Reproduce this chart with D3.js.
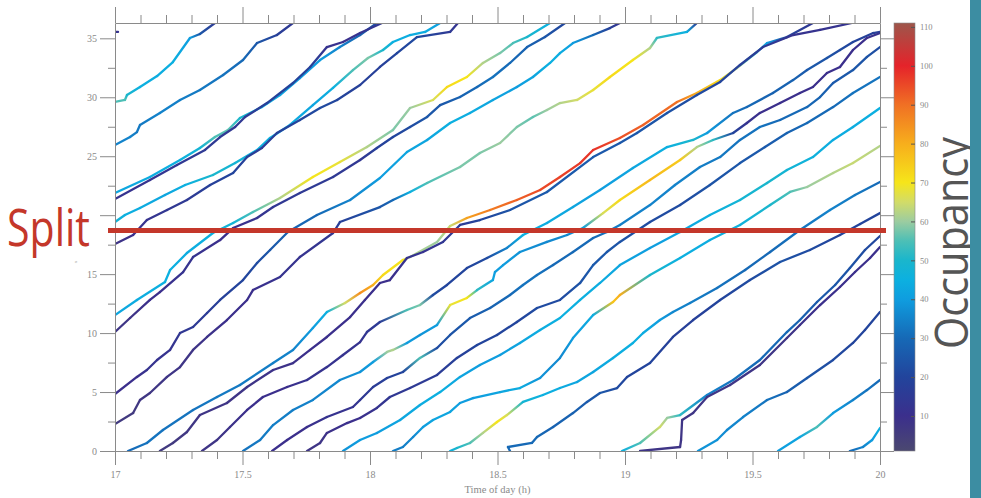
<!DOCTYPE html>
<html lang="en">
<head>
<meta charset="UTF-8">
<title>Occupancy trajectories</title>
<script src="https://d3js.org/d3.v7.min.js"></script>
<style>
  html, body { margin: 0; padding: 0; background: #fff; }
  svg { display: block; }
</style>
</head>
<body>
<svg id="chart" width="981" height="498"></svg>
<script>
// each run: [time of day (h), position (km), occupancy]
const runA1 = [[17.000,35.54,12],[17.012,35.54,12]];
const runA2 = [[17.000,29.60,55],[17.039,29.77,55],[17.047,30.19,50],[17.098,30.87,45],[17.165,31.80,44],[17.227,32.99,45],[17.294,35.03,40],[17.333,35.37,25],[17.392,36.30,15]];
const runA3 = [[17.000,25.95,35],[17.059,26.63,35],[17.086,27.05,33],[17.098,27.65,33],[17.176,28.67,35],[17.255,29.77,34],[17.333,30.62,33],[17.424,31.89,32],[17.502,33.16,30],[17.557,34.60,25],[17.635,35.28,18],[17.698,36.30,14]];
const runA4 = [[17.000,21.88,42],[17.137,23.24,44],[17.255,24.68,45],[17.333,25.70,48],[17.392,26.63,55],[17.443,27.22,56],[17.490,28.24,50],[17.576,29.17,45],[17.647,30.19,42],[17.725,31.63,40],[17.804,33.16,40],[17.882,34.26,35],[17.961,35.28,28],[18.027,36.30,22]];
const runA5 = [[17.000,21.37,12],[17.137,22.98,12],[17.243,24.26,14],[17.353,25.53,15],[17.412,26.63,15],[17.471,27.48,14],[17.510,28.33,15],[17.596,29.51,18],[17.698,31.21,20],[17.765,32.57,18],[17.831,34.26,12],[17.894,34.69,10],[17.961,35.45,12],[18.047,36.30,14]];
const runC0 = [[17.000,19.42,48],[17.039,20.02,45],[17.098,20.61,44],[17.196,21.71,42],[17.275,22.56,45],[17.384,23.41,50],[17.471,24.42,48],[17.557,25.53,45],[17.608,26.55,45],[17.686,27.65,44],[17.776,29.34,42],[17.855,30.79,45],[17.933,32.31,55],[17.992,33.33,58],[18.051,34.01,50],[18.090,34.69,45],[18.157,35.28,44],[18.216,35.54,44],[18.275,36.30,40]];
const runC1 = [[17.000,17.56,8],[17.071,18.32,10],[17.125,19.59,12],[17.204,20.44,14],[17.282,21.29,15],[17.373,22.56,18],[17.463,23.58,20],[17.518,24.93,18],[17.576,25.70,16],[17.635,26.97,18],[17.725,28.07,20],[17.804,29.09,22],[17.871,29.77,20],[17.961,31.04,18],[18.039,32.57,18],[18.106,33.75,20],[18.184,35.11,22],[18.314,35.54,15],[18.345,36.30,12]];
const runL1 = [[17.000,11.53,42],[17.086,12.81,44],[17.196,14.33,45],[17.216,15.35,45],[17.282,16.79,44],[17.384,18.49,45],[17.463,19.34,48],[17.541,20.27,55],[17.647,21.46,62],[17.776,23.24,70],[17.882,24.51,68],[17.988,25.78,62],[18.090,27.22,58],[18.157,29.09,60],[18.247,29.77,66],[18.302,30.87,72],[18.380,31.72,70],[18.443,32.91,62],[18.510,33.75,58],[18.561,34.60,55],[18.616,35.11,50],[18.706,36.30,45]];
const runL2 = [[17.000,10.09,8],[17.059,11.28,8],[17.137,12.81,10],[17.176,13.48,10],[17.267,15.18,12],[17.306,16.45,12],[17.412,17.89,10],[17.463,18.91,10],[17.557,19.76,12],[17.620,20.69,14],[17.725,21.88,15],[17.855,23.24,15],[17.961,24.68,14],[18.027,25.70,18],[18.090,26.63,20],[18.157,27.48,22],[18.224,28.33,25],[18.275,29.34,25],[18.353,30.02,28],[18.420,30.87,30],[18.482,31.72,32],[18.549,32.91,30],[18.616,34.26,28],[18.686,35.11,25],[18.765,36.30,20]];
const runL3 = [[17.000,4.83,10],[17.086,6.28,10],[17.125,6.87,12],[17.165,7.72,12],[17.216,8.57,12],[17.255,10.01,14],[17.306,10.52,15],[17.361,11.70,16],[17.412,12.81,18],[17.502,14.50,20],[17.557,15.94,22],[17.608,17.05,25],[17.678,18.57,28],[17.792,20.02,30],[17.922,21.29,35],[18.039,23.15,40],[18.145,25.36,42],[18.224,26.38,42],[18.314,27.82,45],[18.392,28.67,44],[18.482,29.77,42],[18.576,30.87,40],[18.639,31.72,42],[18.706,32.91,45],[18.745,33.75,44],[18.796,34.60,40],[18.875,35.28,30],[18.941,35.87,18],[18.980,36.30,12]];
const runL4 = [[17.000,2.29,6],[17.071,3.22,6],[17.098,4.33,7],[17.137,4.92,7],[17.204,6.28,8],[17.255,7.12,8],[17.306,8.57,8],[17.361,9.67,9],[17.439,11.11,10],[17.518,12.81,10],[17.541,13.65,10],[17.647,14.76,12],[17.725,16.45,12],[17.855,18.49,14],[17.882,19.42,18],[18.039,20.69,25],[18.090,21.29,30],[18.157,21.97,45],[18.224,22.73,55],[18.353,24.09,58],[18.431,25.27,58],[18.510,26.12,60],[18.576,27.48,58],[18.639,28.33,56],[18.694,28.92,60],[18.745,29.51,62],[18.812,29.77,65],[18.875,30.62,68],[18.941,31.72,72],[19.031,33.16,70],[19.098,34.18,62],[19.125,35.03,52],[19.243,35.54,45],[19.282,36.30,15]];
const runB01 = [[17.051,0.00,30],[17.125,0.68,32],[17.188,1.78,32],[17.306,3.48,32],[17.400,4.58,33],[17.490,5.60,33],[17.620,7.46,34],[17.698,8.57,35],[17.776,10.43,40],[17.831,11.79,45],[17.902,12.55,65],[17.961,13.40,85],[18.012,14.08,80],[18.051,14.93,72],[18.129,16.20,70],[18.157,16.45,62],[18.263,17.73,60],[18.314,19.08,64],[18.380,19.76,82],[18.471,20.44,88],[18.576,21.29,92],[18.667,22.14,95],[18.745,23.24,96],[18.824,24.42,97],[18.875,25.53,98],[18.980,26.55,94],[19.071,27.65,92],[19.204,29.60,90],[19.282,30.36,80],[19.373,31.46,72],[19.439,32.48,62],[19.478,33.16,55],[19.518,33.84,50],[19.557,34.60,40],[19.635,35.11,20],[19.737,36.30,14]];
const runB02 = [[17.176,0.00,6],[17.227,0.68,6],[17.282,1.61,7],[17.333,3.05,8],[17.439,4.07,8],[17.518,5.43,8],[17.620,6.87,9],[17.698,7.46,9],[17.765,8.57,10],[17.831,9.67,10],[17.922,11.36,10],[17.980,12.81,10],[18.039,14.25,10],[18.078,14.50,10],[18.145,16.37,12],[18.208,16.88,12],[18.286,17.73,14],[18.353,19.17,16],[18.431,19.59,20],[18.549,20.44,24],[18.694,21.97,26],[18.875,24.93,26],[18.980,26.12,25],[19.047,26.97,25],[19.165,28.67,24],[19.282,30.19,22],[19.373,31.30,20],[19.451,32.74,18],[19.541,34.26,15],[19.659,35.28,12],[19.765,35.71,12],[19.890,36.30,12]];
const runB03 = [[17.341,0.00,8],[17.400,0.93,8],[17.451,2.04,9],[17.518,3.48,10],[17.580,4.58,10],[17.675,5.43,10],[17.753,6.02,12],[17.831,7.12,12],[17.894,8.14,12],[17.961,9.24,12],[17.988,10.09,14],[18.039,10.94,16],[18.145,11.96,55],[18.196,12.38,58],[18.247,13.23,22],[18.302,14.08,20],[18.380,15.52,20],[18.459,16.37,22],[18.537,17.22,35],[18.600,18.32,45],[18.694,19.34,44],[18.796,20.69,42],[18.902,22.14,40],[19.031,24.00,42],[19.165,25.78,45],[19.267,26.38,50],[19.322,26.97,40],[19.424,28.67,32],[19.478,29.17,30],[19.580,30.36,28],[19.659,31.46,28],[19.714,32.31,26],[19.792,33.33,24],[19.843,34.01,22],[19.894,34.69,20],[19.973,35.45,18],[20.000,35.54,18]];
const runB04 = [[17.502,0.00,32],[17.569,0.93,33],[17.620,2.20,34],[17.698,3.48,34],[17.776,4.33,35],[17.882,6.02,36],[17.961,6.70,38],[18.012,7.55,40],[18.067,8.40,60],[18.090,8.57,62],[18.145,9.16,40],[18.196,9.84,38],[18.263,10.69,40],[18.314,12.38,68],[18.380,12.98,70],[18.420,13.65,52],[18.482,14.50,42],[18.490,15.18,40],[18.522,15.77,40],[18.588,16.88,38],[18.694,17.73,36],[18.773,18.32,36],[18.835,18.91,40],[18.914,20.18,66],[18.980,21.29,72],[19.098,22.98,78],[19.216,24.68,75],[19.282,25.78,62],[19.345,26.38,52],[19.424,26.97,20],[19.478,27.82,12],[19.529,28.67,10],[19.608,29.51,10],[19.686,30.36,10],[19.737,30.87,10],[19.792,32.06,10],[19.843,32.57,10],[19.894,34.01,10],[19.949,35.03,10],[20.000,35.45,12]];
const runB05 = [[17.616,0.00,10],[17.675,0.93,10],[17.753,2.04,10],[17.831,2.88,12],[17.933,3.73,12],[17.961,4.33,14],[18.012,5.43,16],[18.067,6.19,18],[18.129,6.70,20],[18.196,7.89,55],[18.263,8.74,22],[18.314,9.84,24],[18.392,11.28,26],[18.471,12.13,28],[18.549,13.23,30],[18.600,14.08,32],[18.655,14.93,32],[18.718,15.77,30],[18.796,16.88,30],[18.875,18.06,30],[18.929,18.57,32],[18.980,19.17,34],[19.098,20.86,35],[19.196,22.56,35],[19.294,24.09,34],[19.373,24.93,33],[19.451,26.38,32],[19.529,27.48,32],[19.608,28.07,30],[19.714,29.17,30],[19.765,30.02,28],[19.816,31.21,26],[19.894,32.31,25],[19.949,33.42,24],[20.000,34.26,22]];
const runB06 = [[17.753,0.00,8],[17.804,0.68,8],[17.831,1.53,9],[17.910,2.37,10],[17.961,2.80,10],[18.027,3.65,12],[18.078,4.58,14],[18.157,5.34,15],[18.263,6.45,16],[18.341,7.89,18],[18.420,8.99,20],[18.498,9.84,20],[18.576,10.94,20],[18.655,12.13,22],[18.745,12.81,22],[18.824,14.25,24],[18.875,15.77,26],[18.929,16.88,25],[18.980,17.73,24],[19.098,19.42,22],[19.216,20.86,22],[19.333,22.56,24],[19.451,24.42,25],[19.549,25.78,26],[19.635,26.97,28],[19.714,27.82,30],[19.816,29.17,30],[19.894,30.36,32],[20.000,31.72,32]];
const runB07 = [[17.894,0.00,38],[17.961,0.93,40],[18.027,1.53,40],[18.118,2.63,42],[18.196,3.90,44],[18.275,5.00,45],[18.353,6.28,42],[18.431,7.29,40],[18.510,8.14,40],[18.588,9.16,42],[18.667,10.26,44],[18.745,11.28,45],[18.824,12.81,45],[18.902,14.25,44],[18.980,15.77,42],[19.098,17.22,40],[19.216,18.57,42],[19.333,20.02,45],[19.451,21.29,48],[19.557,22.73,50],[19.635,23.83,48],[19.737,24.93,46],[19.816,26.38,44],[19.894,27.48,44],[20.000,29.09,45]];
const runB08 = [[18.090,0.00,34],[18.129,0.34,34],[18.169,1.19,36],[18.208,2.04,40],[18.247,2.63,42],[18.314,3.31,42],[18.353,4.07,40],[18.404,4.49,40],[18.510,5.00,42],[18.588,5.34,44],[18.667,6.19,38],[18.745,7.89,36],[18.796,9.58,40],[18.875,11.53,44],[18.953,12.64,76],[18.980,13.23,80],[19.098,14.93,50],[19.216,16.37,45],[19.333,17.89,44],[19.451,19.17,46],[19.569,20.86,50],[19.647,21.97,55],[19.714,22.39,60],[19.816,23.58,62],[19.894,24.42,64],[20.000,25.87,62]];
const runB09 = [[18.314,0.00,45],[18.341,0.25,50],[18.392,0.68,55],[18.443,1.53,62],[18.498,2.46,70],[18.537,3.05,66],[18.600,4.16,48],[18.678,4.75,45],[18.745,5.34,44],[18.812,5.85,42],[18.875,6.70,42],[18.953,7.89,44],[19.031,9.16,45],[19.071,10.01,44],[19.137,11.11,40],[19.188,11.79,36],[19.255,12.55,34],[19.361,13.82,32],[19.471,15.35,30],[19.569,16.88,30],[19.686,18.74,32],[19.804,20.44,35],[19.902,21.71,33],[20.000,22.81,30]];
const runB10 = [[18.549,0.00,30],[18.541,0.34,30],[18.635,0.68,30],[18.655,1.19,30],[18.718,2.04,28],[18.796,3.22,28],[18.851,4.16,26],[18.902,4.92,25],[18.969,5.34,22],[19.008,6.28,20],[19.098,7.46,20],[19.188,9.67,18],[19.267,11.11,18],[19.373,12.81,20],[19.490,14.50,22],[19.608,16.03,24],[19.725,17.05,22],[19.843,18.32,20],[19.922,19.25,20],[20.000,20.18,20]];
const runB11 = [[18.988,0.00,45],[19.059,0.68,55],[19.137,2.04,65],[19.165,2.80,60],[19.216,3.05,52],[19.322,4.75,35],[19.424,6.02,32],[19.529,7.72,30],[19.635,10.09,30],[19.686,11.11,28],[19.753,12.64,26],[19.824,14.08,25],[19.882,15.52,24],[19.941,17.05,22],[20.000,18.23,20]];
const runB12 = [[19.059,0.00,8],[19.216,0.34,8],[19.220,0.93,8],[19.224,2.63,8],[19.267,3.22,8],[19.322,4.58,8],[19.412,5.60,8],[19.529,7.29,8],[19.635,9.58,8],[19.686,10.69,9],[19.765,12.38,10],[19.843,13.91,10],[19.902,15.18,10],[19.961,16.37,10],[20.000,17.30,10]];
const runB13 = [[19.286,0.00,38],[19.361,0.93,38],[19.400,1.78,36],[19.463,2.88,35],[19.557,4.33,32],[19.635,5.00,28],[19.714,6.19,25],[19.816,7.72,22],[19.894,9.16,20],[19.941,10.26,20],[20.000,11.79,20]];
const runB14 = [[19.600,0.00,40],[19.686,1.19,42],[19.753,2.04,55],[19.816,3.22,40],[19.894,4.33,35],[19.949,5.17,32],[20.000,6.02,30]];
const runB15 = [[19.882,0.00,30],[19.933,0.34,35],[19.969,0.93,40],[20.000,1.95,45]];

const runs = [runA1, runA2, runA3, runA4, runA5, runC0, runC1, runL1, runL2, runL3, runL4,
  runB01, runB02, runB03, runB04, runB05, runB06, runB07, runB08, runB09, runB10,
  runB11, runB12, runB13, runB14, runB15];

// colormap
const occStops  = [1, 10, 20, 30, 40, 45, 50, 55, 60, 65, 70, 80, 90, 100, 111];
const occColors = ["#4b4870", "#3b2f8c", "#22449c", "#1669b6", "#0f9ddf", "#0cb0e0", "#1ab6cc",
                   "#4dbfb6", "#9ccca0", "#d2dc68", "#f6e51a", "#f7ae1c", "#f07024", "#e5232a", "#9d564b"];

// ticks
const kmTicks = [0, 5, 10, 15, 20, 25, 30, 35];
const kmMinor = [2.5, 7.5, 12.5, 17.5, 22.5, 27.5, 32.5];
const timeTicks = [17, 17.5, 18, 18.5, 19, 19.5, 20];
const timeMinor = [17.1, 17.2, 17.3, 17.4, 17.6, 17.7, 17.8, 17.9, 18.1, 18.2, 18.3, 18.4, 18.6, 18.7, 18.8, 18.9,
                   19.1, 19.2, 19.3, 19.4, 19.6, 19.7, 19.8, 19.9];
const occTicks = [10, 20, 30, 40, 50, 60, 70, 80, 90, 100, 110];
const splitKm = 18.7;

const svg = d3.select("#chart");
const x = d3.scaleLinear().domain([17, 20]).range([115, 880]);
const y = d3.scaleLinear().domain([0, 36.3]).range([451, 23]);
const color = d3.scaleLinear().domain(occStops).range(occColors).clamp(true);
const cy = d3.scaleLinear().domain([1, 111]).range([451, 23]);

const defs = svg.append("defs");
defs.append("clipPath").attr("id", "plotClip")
  .append("rect").attr("x", 115).attr("y", 23).attr("width", 765).attr("height", 428);

// trajectories, each segment shaded from one occupancy to the next
const plot = svg.append("g").attr("clip-path", "url(#plotClip)");
let gid = 0;
runs.forEach(run => {
  for (let i = 0; i < run.length - 1; i++) {
    const a = run[i], b = run[i + 1];
    const id = "seg" + (gid++);
    const grad = defs.append("linearGradient").attr("id", id)
      .attr("gradientUnits", "userSpaceOnUse")
      .attr("x1", x(a[0])).attr("y1", y(a[1]))
      .attr("x2", x(b[0])).attr("y2", y(b[1]));
    grad.append("stop").attr("offset", 0).attr("stop-color", color(a[2]));
    grad.append("stop").attr("offset", 1).attr("stop-color", color(b[2]));
    plot.append("line")
      .attr("x1", x(a[0])).attr("y1", y(a[1]))
      .attr("x2", x(b[0])).attr("y2", y(b[1]))
      .attr("stroke", `url(#${id})`)
      .attr("stroke-width", 2.3)
      .attr("stroke-linecap", "round");
  }
});

// axes
function styleAxis(g) {
  g.style("color", "#8a8a8a")
   .attr("font-family", "'Liberation Serif', 'Times New Roman', serif")
   .attr("font-size", 10);
}
// the "20" label sits under the Split caption in the original, so it is left blank
svg.append("g").attr("transform", "translate(115,0)")
  .call(d3.axisLeft(y).tickValues(kmTicks).tickSize(15).tickPadding(3).tickSizeOuter(0)
    .tickFormat(d => d === 20 ? "" : d))
  .call(styleAxis);
svg.append("g").attr("transform", "translate(115,0)")
  .call(d3.axisLeft(y).tickValues(kmMinor).tickSize(7).tickFormat(""))
  .call(styleAxis).call(g => g.select(".domain").remove());
svg.append("g").attr("transform", "translate(880,0)")
  .call(d3.axisRight(y).tickValues(kmTicks).tickSize(14).tickSizeOuter(0).tickFormat(""))
  .call(styleAxis);
svg.append("g").attr("transform", "translate(880,0)")
  .call(d3.axisRight(y).tickValues(kmMinor).tickSize(7).tickFormat(""))
  .call(styleAxis).call(g => g.select(".domain").remove());
svg.append("g").attr("transform", "translate(0,451)")
  .call(d3.axisBottom(x).tickValues(timeTicks).tickSize(14).tickPadding(6).tickSizeOuter(0).tickFormat(d => d))
  .call(styleAxis);
svg.append("g").attr("transform", "translate(0,451)")
  .call(d3.axisBottom(x).tickValues(timeMinor).tickSize(8).tickFormat(""))
  .call(styleAxis).call(g => g.select(".domain").remove());
svg.append("g").attr("transform", "translate(0,23)")
  .call(d3.axisTop(x).tickValues(timeTicks).tickSize(16).tickSizeOuter(0).tickFormat(""))
  .call(styleAxis);
svg.append("g").attr("transform", "translate(0,23)")
  .call(d3.axisTop(x).tickValues(timeMinor).tickSize(8).tickFormat(""))
  .call(styleAxis).call(g => g.select(".domain").remove());

svg.append("text")
  .attr("x", x(18.5)).attr("y", 493)
  .attr("text-anchor", "middle")
  .attr("font-family", "'Liberation Serif', 'Times New Roman', serif")
  .attr("font-size", 10.5).attr("fill", "#8a8a8a")
  .text("Time of day (h)");

svg.append("text")
  .attr("transform", "translate(77,262) rotate(-90)")
  .attr("text-anchor", "middle")
  .attr("font-family", "'Liberation Serif', serif")
  .attr("font-size", 5).attr("fill", "#999")
  .text("x");

// colour bar
const cbGrad = defs.append("linearGradient").attr("id", "cbGrad")
  .attr("gradientUnits", "userSpaceOnUse")
  .attr("x1", 0).attr("y1", cy(1)).attr("x2", 0).attr("y2", cy(111));
occStops.forEach((v, i) => {
  cbGrad.append("stop").attr("offset", (v - 1) / 110).attr("stop-color", occColors[i]);
});
svg.append("rect")
  .attr("x", 894).attr("y", cy(111)).attr("width", 21).attr("height", cy(1) - cy(111))
  .attr("fill", "url(#cbGrad)").attr("stroke", "#8a8a8a").attr("stroke-width", 0.6);
const cb = svg.append("g").attr("transform", "translate(915,0)")
  .call(d3.axisRight(cy).tickValues(occTicks).tickSize(-4).tickPadding(5).tickSizeOuter(0))
  .call(styleAxis)
  .call(g => g.select(".domain").remove())
  .attr("font-size", 8.5);
cb.selectAll(".tick line").attr("stroke", "#555");

// split marker
svg.append("line")
  .attr("x1", 108).attr("x2", 886)
  .attr("y1", y(splitKm)).attr("y2", y(splitKm))
  .attr("stroke", "#c4372a").attr("stroke-width", 5);
svg.append("text")
  .attr("x", 7).attr("y", 245.5)
  .attr("font-family", "'Open Sans', sans-serif")
  .attr("font-size", 52)
  .attr("textLength", 83).attr("lengthAdjust", "spacingAndGlyphs")
  .attr("fill", "#c4372a")
  .text("Split");

// side title and band
svg.append("text")
  .attr("transform", "translate(968,349) rotate(-90)")
  .attr("font-family", "'Open Sans', sans-serif")
  .attr("font-size", 45)
  .attr("textLength", 212).attr("lengthAdjust", "spacingAndGlyphs")
  .attr("fill", "#555")
  .text("Occupancy");
svg.append("rect")
  .attr("x", 970).attr("y", 0).attr("width", 11).attr("height", 498)
  .attr("fill", "#3c8da2");
</script>
</body>
</html>
